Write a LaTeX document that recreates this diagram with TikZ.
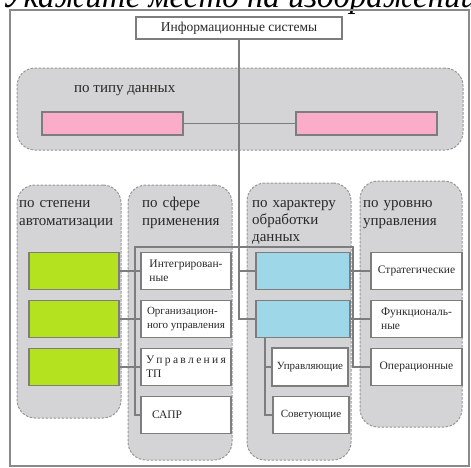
\documentclass[tikz,border=0pt]{standalone}
\usepackage{fontspec}
\setmainfont{Liberation Serif}
\definecolor{panelgray}{RGB}{212,212,214}
\definecolor{dashgray}{RGB}{150,150,150}
\definecolor{linegray}{RGB}{125,125,125}
\definecolor{pinkc}{RGB}{250,172,200}
\definecolor{greenc}{RGB}{181,226,31}
\definecolor{bluec}{RGB}{158,216,232}
\definecolor{txt}{RGB}{40,40,40}
\tikzset{
  panel/.style={draw=dashgray, fill=panelgray, dash pattern=on 2.5pt off 1.5pt, line width=1pt, rounded corners=18pt, inner sep=0pt},
  box/.style={draw=linegray, line width=1.6pt, fill=white, inner sep=0pt, text=txt, align=left, font=\fontsize{11.5}{14}\selectfont},
  conn/.style={draw=linegray, line width=1.6pt},
  lbl/.style={anchor=base west, inner sep=0pt, align=left, text=txt, font=\fontsize{15}{18}\selectfont},
  frame/.style={draw=linegray!90, line width=1.8pt}
}
\begin{document}
\begin{tikzpicture}[x=1pt,y=-1pt]
\useasboundingbox (0,0) rectangle (471,467);
\clip (0,0) rectangle (471,467);
% cut-off heading
\node[anchor=base west, inner sep=0pt, font=\fontsize{33}{33}\selectfont\itshape] (cut) at (2,7) {Укажите место на изображении};
% outer frame
\draw[frame] (10,10) rectangle (469,466);
% panels
\node[panel, minimum width=446pt, minimum height=82pt] (ptype) at (240,109) {};
\node[panel, minimum width=104pt, minimum height=233pt] (p1) at (69,301.5) {};
\node[panel, minimum width=104pt, minimum height=275pt] (p2) at (180,322.5) {};
\node[panel, minimum width=104pt, minimum height=277pt] (p3) at (299,321.5) {};
\node[panel, minimum width=102pt, minimum height=246pt] (p4) at (411,304) {};
% panel labels
\node[lbl] (ltype) at (74,92) {по типу данных};
\node[lbl, text width=100pt] (l1) at (19,207) {по степени\\автоматизации};
\node[lbl, text width=100pt] (l2) at (142,207) {по сфере\\применения};
\node[lbl, text width=100pt, font=\fontsize{15}{17}\selectfont] (l3) at (252,207) {по характеру\\обработки\\данных};
\node[lbl, text width=100pt] (l4) at (363,207) {по уровню\\управления};
% named coordinates
\coordinate (busL) at (135,247);
\coordinate (busR) at (353,247);
\coordinate (subtop) at (265,337);
% boxes
\node[box, minimum width=206pt, minimum height=22pt, font=\fontsize{13.5}{15}\selectfont] (top) at (239,28) {Информационные системы};
\node[box, fill=pinkc, minimum width=141pt, minimum height=23pt] (pinkL) at (112.5,123.5) {};
\node[box, fill=pinkc, minimum width=141pt, minimum height=23pt] (pinkR) at (366.5,123.5) {};
\node[box, fill=greenc, minimum width=90pt, minimum height=37pt] (g1) at (74,271) {};
\node[box, fill=greenc, minimum width=90pt, minimum height=37pt] (g2) at (74,319) {};
\node[box, fill=greenc, minimum width=90pt, minimum height=37pt] (g3) at (74,367) {};
\node[box, minimum width=90pt, minimum height=37pt] (integ) at (186,271) {Интегрирован-\\ные};
\node[box, minimum width=90pt, minimum height=37pt, font=\fontsize{11}{14}\selectfont] (org) at (186,319) {Организацион-\\ного управления};
\node[box, minimum width=90pt, minimum height=37pt, text width=80pt, inner xsep=5pt] (tp) at (186,367) {\makebox[80pt][s]{У\hfil п\hfil р\hfil а\hfil в\hfil л\hfil е\hfil н\hfil и\hfil я}\\ТП};
\node[box, minimum width=90pt, minimum height=37pt, text width=68pt, inner xsep=11pt] (sapr) at (186,415) {САПР};
\node[box, fill=bluec, minimum width=94pt, minimum height=37pt] (blue1) at (303,271) {};
\node[box, fill=bluec, minimum width=94pt, minimum height=37pt] (blue2) at (303,319) {};
\node[box, minimum width=76pt, minimum height=38pt, font=\fontsize{11}{14}\selectfont] (upr) at (310,367) {Управляющие};
\node[box, minimum width=76pt, minimum height=37pt, font=\fontsize{11}{14}\selectfont] (sovet) at (311,415) {Советующие};
\node[box, minimum width=91pt, minimum height=37pt] (strat) at (416.5,271) {Стратегические};
\node[box, minimum width=91pt, minimum height=37pt] (func) at (416.5,319) {Функциональ-\\ные};
\node[box, minimum width=91pt, minimum height=37pt] (oper) at (416.5,367) {Операционные};
% connectors
\draw[conn] (top.south) |- (blue2.west);
\draw[conn] (top.south |- blue1.west) -- (blue1.west);
\draw[conn] (pinkL.east) -- (pinkR.west);
\draw[conn] (sapr.west) -| (busL) -- (busR) |- (oper.west);
\draw[conn] (g1.east) -- (integ.west);
\draw[conn] (g2.east) -- (org.west);
\draw[conn] (g3.east) -- (tp.west);
\draw[conn] (blue1.east) -- (strat.west);
\draw[conn] (blue2.east) -- (func.west);
\draw[conn] (subtop) |- (sovet.west);
\draw[conn] (upr.west) -- (upr.west -| subtop);
\end{tikzpicture}
\end{document}
